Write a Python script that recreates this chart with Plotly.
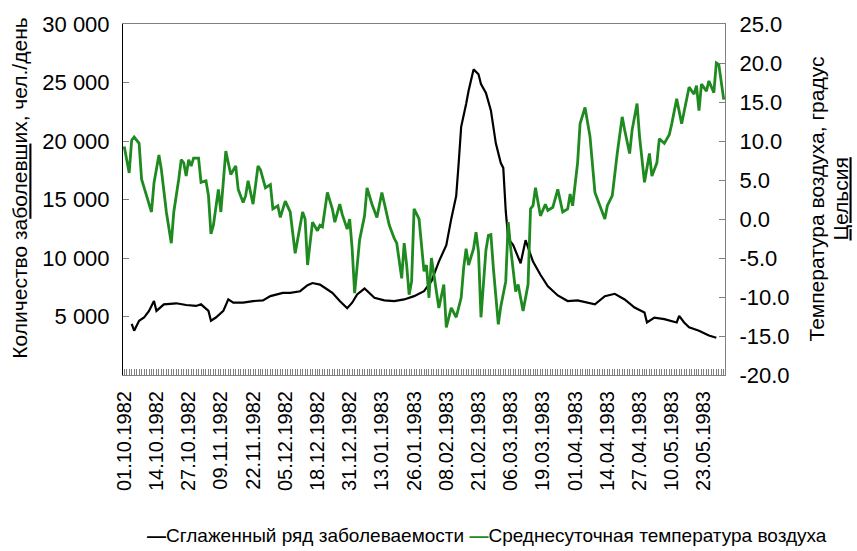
import pandas as pd
import plotly.graph_objects as go

# Smoothed daily morbidity (persons/day), left axis
cases_dates = [
    "1982-10-04", "1982-10-05", "1982-10-07", "1982-10-09", "1982-10-11", "1982-10-13",
    "1982-10-14", "1982-10-17", "1982-10-22", "1982-10-26", "1982-10-30", "1982-11-01",
    "1982-11-04", "1982-11-05", "1982-11-07", "1982-11-10", "1982-11-12", "1982-11-14",
    "1982-11-18", "1982-11-22", "1982-11-26", "1982-11-29", "1982-12-04", "1982-12-07",
    "1982-12-11", "1982-12-14", "1982-12-16", "1982-12-19", "1982-12-22", "1982-12-24",
    "1982-12-27", "1982-12-30", "1983-01-01", "1983-01-03", "1983-01-06", "1983-01-10",
    "1983-01-14", "1983-01-18", "1983-01-22", "1983-01-26", "1983-01-30", "1983-02-02",
    "1983-02-05", "1983-02-08", "1983-02-10", "1983-02-12", "1983-02-13", "1983-02-14",
    "1983-02-16", "1983-02-17", "1983-02-19", "1983-02-21", "1983-02-22", "1983-02-24",
    "1983-02-26", "1983-02-28", "1983-03-02", "1983-03-03", "1983-03-04", "1983-03-05",
    "1983-03-07", "1983-03-10", "1983-03-12", "1983-03-15", "1983-03-18", "1983-03-21",
    "1983-03-25", "1983-03-29", "1983-04-02", "1983-04-06", "1983-04-09", "1983-04-13",
    "1983-04-17", "1983-04-21", "1983-04-25", "1983-04-29", "1983-04-30", "1983-05-03",
    "1983-05-07", "1983-05-12", "1983-05-13", "1983-05-15", "1983-05-17", "1983-05-21",
    "1983-05-25", "1983-05-28",
]
cases = [
    4360, 3790, 4640, 4910, 5480, 6320,
    5480, 6040, 6130, 5980, 5900, 6040,
    5480, 4640, 4910, 5480, 6460, 6180,
    6180, 6320, 6380, 6740, 7020, 7020,
    7160, 7670, 7860, 7730, 7310, 7020,
    6320, 5710, 6180, 6890, 7390, 6600,
    6380, 6320, 6460, 6740, 7160, 8010,
    9690, 11100, 13340, 15310, 18120, 21210,
    23170, 24300, 26120, 25700, 24860, 24100,
    22610, 19800, 18120, 17700, 14000, 11650,
    11100, 9550, 11520, 9690, 8570, 7580,
    6800, 6320, 6380, 6180, 6040, 6740,
    6940, 6460, 5760, 5340, 4490, 4910,
    4780, 4490, 5060, 4490, 4070, 3790,
    3370, 3180,
]

# Mean daily air temperature (°C), right axis
temp_dates = [
    "1982-10-01", "1982-10-03", "1982-10-04", "1982-10-05", "1982-10-07", "1982-10-08",
    "1982-10-10", "1982-10-12", "1982-10-13", "1982-10-15", "1982-10-16", "1982-10-18",
    "1982-10-20", "1982-10-21", "1982-10-23", "1982-10-24", "1982-10-25", "1982-10-26",
    "1982-10-27", "1982-10-28", "1982-10-29", "1982-10-31", "1982-11-01", "1982-11-03",
    "1982-11-04", "1982-11-05", "1982-11-06", "1982-11-08", "1982-11-09", "1982-11-10",
    "1982-11-11", "1982-11-13", "1982-11-15", "1982-11-16", "1982-11-18", "1982-11-19",
    "1982-11-20", "1982-11-22", "1982-11-24", "1982-11-25", "1982-11-27", "1982-11-29",
    "1982-11-30", "1982-12-02", "1982-12-03", "1982-12-05", "1982-12-07", "1982-12-09",
    "1982-12-10", "1982-12-12", "1982-12-13", "1982-12-14", "1982-12-16", "1982-12-18",
    "1982-12-19", "1982-12-20", "1982-12-22", "1982-12-24", "1982-12-25", "1982-12-27",
    "1982-12-28", "1982-12-30", "1982-12-31", "1983-01-01", "1983-01-02", "1983-01-04",
    "1983-01-06", "1983-01-07", "1983-01-09", "1983-01-11", "1983-01-13", "1983-01-15",
    "1983-01-16", "1983-01-18", "1983-01-19", "1983-01-21", "1983-01-22", "1983-01-23",
    "1983-01-24", "1983-01-25", "1983-01-26", "1983-01-28", "1983-01-29", "1983-01-30",
    "1983-01-31", "1983-02-01", "1983-02-02", "1983-02-03", "1983-02-05", "1983-02-07",
    "1983-02-08", "1983-02-10", "1983-02-12", "1983-02-14", "1983-02-15", "1983-02-16",
    "1983-02-17", "1983-02-19", "1983-02-20", "1983-02-21", "1983-02-22", "1983-02-24",
    "1983-02-25", "1983-02-26", "1983-02-27", "1983-03-01", "1983-03-02", "1983-03-04",
    "1983-03-05", "1983-03-06", "1983-03-08", "1983-03-09", "1983-03-11", "1983-03-13",
    "1983-03-14", "1983-03-15", "1983-03-16", "1983-03-18", "1983-03-20", "1983-03-21",
    "1983-03-23", "1983-03-25", "1983-03-27", "1983-03-29", "1983-03-30", "1983-03-31",
    "1983-04-02", "1983-04-03", "1983-04-05", "1983-04-07", "1983-04-09", "1983-04-11",
    "1983-04-13", "1983-04-14", "1983-04-16", "1983-04-18", "1983-04-20", "1983-04-21",
    "1983-04-23", "1983-04-24", "1983-04-26", "1983-04-27", "1983-04-29", "1983-05-01",
    "1983-05-02", "1983-05-04", "1983-05-05", "1983-05-07", "1983-05-09", "1983-05-10",
    "1983-05-12", "1983-05-14", "1983-05-15", "1983-05-17", "1983-05-19", "1983-05-20",
    "1983-05-21", "1983-05-22", "1983-05-24", "1983-05-25", "1983-05-27", "1983-05-28",
    "1983-05-29", "1983-05-30", "1983-05-31",
]
temperature = [
    9.3, 5.9, 10.1, 10.5, 9.7, 5.1,
    3.0, 0.9, 4.6, 8.2, 6.3, 0.9,
    -3.1, 0.9, 5.1, 7.6, 7.2, 5.5,
    7.6, 6.8, 7.8, 7.8, 4.7, 4.9,
    3.0, -1.9, -0.8, 3.8, 0.9, 5.1,
    8.7, 5.7, 6.8, 3.8, 2.1, 3.0,
    4.9, 1.9, 6.8, 6.3, 4.0, 4.4,
    1.3, 1.7, 0.2, 2.3, 0.9, -4.4,
    -2.5, 0.9, 0.0, -5.9, -0.4, -1.5,
    -0.8, -1.0, 3.4, 1.3, -0.4, 1.9,
    0.6, -1.3, 0.0, -3.8, -9.5, -2.7,
    0.4, 4.0, 1.9, 0.2, 3.4, 0.4,
    -0.8, -2.5, -3.1, -7.6, -3.1, -5.9,
    -9.7, -8.0, 1.3, 0.0, -3.4, -6.7,
    -5.9, -10.1, -5.0, -7.1, -11.4, -8.4,
    -13.9, -11.4, -12.6, -10.1, -6.3, -3.8,
    -5.9, -3.8, -1.7, -4.2, -12.6, -4.0,
    -2.1, -2.0, -6.3, -13.5, -11.2, -8.0,
    -0.4, -3.8, -9.3, -8.4, -11.8, -8.4,
    1.3, 1.7, 4.0, 0.4, 1.9, 1.1,
    1.5, 3.8, 0.9, 1.3, 3.2, 1.7,
    7.2, 12.2, 14.3, 10.6, 3.4, 1.7,
    0.0, 1.7, 3.0, 8.4, 13.1, 11.4,
    8.4, 11.4, 14.8, 10.6, 4.7, 8.4,
    5.5, 7.2, 10.3, 9.7, 10.8, 12.2,
    15.4, 12.2, 13.9, 16.9, 16.0, 17.1,
    13.9, 17.3, 16.4, 17.7, 16.2, 20.0,
    19.8, 17.3, 15.3,
]

# Axis tick labels
date_labels = [
    "01.10.1982", "14.10.1982", "27.10.1982", "09.11.1982", "22.11.1982",
    "05.12.1982", "18.12.1982", "31.12.1982", "13.01.1983", "26.01.1983",
    "08.02.1983", "21.02.1983", "06.03.1983", "19.03.1983", "01.04.1983",
    "14.04.1983", "27.04.1983", "10.05.1983", "23.05.1983",
]
cases_ticks = [5000, 10000, 15000, 20000, 25000, 30000]
cases_tick_text = ["5 000", "10 000", "15 000", "20 000", "25 000", "30 000"]
temp_ticks = [-20, -15, -10, -5, 0, 5, 10, 15, 20, 25]
temp_tick_text = ["-20.0", "-15.0", "-10.0", "-5.0", "0.0", "5.0", "10.0", "15.0", "20.0", "25.0"]

FONT = "Liberation Sans, Arial, sans-serif"
BLACK = "#000000"
GREEN = "#1f8a1f"

# plot-area geometry in pixels, used to place the free-standing texts
L, R, T, B = 123, 725, 19, 375
W, H = R - L, B - T

label_dates = pd.to_datetime(date_labels, format="%d.%m.%Y")
series_names = ["Сглаженный ряд заболеваемости", "Среднесуточная температура воздуха"]

fig = go.Figure()
fig.add_trace(go.Scatter(
    x=pd.to_datetime(cases_dates), y=cases, mode="lines",
    name=series_names[0], line=dict(color=BLACK, width=2.2),
))
fig.add_trace(go.Scatter(
    x=pd.to_datetime(temp_dates), y=temperature, mode="lines",
    name=series_names[1], line=dict(color=GREEN, width=2.8), yaxis="y2",
))

# one-line key below the chart: coloured dash followed by the series name
key_text = (
    f'<span style="color:{BLACK}"><b>—</b></span>{series_names[0]} '
    f'<span style="color:{GREEN}"><b>—</b></span>{series_names[1]}'
)


def vertical_text(text, x_px, y_px):
    return dict(
        text=text, textangle=-90, xref="paper", yref="paper",
        x=(x_px - L) / W, y=(B - y_px) / H,
        xanchor="center", yanchor="middle", showarrow=False,
        font=dict(family=FONT, size=21, color=BLACK),
    )


fig.update_layout(
    width=857, height=551,
    margin=dict(l=L, r=857 - R, t=T, b=551 - B),
    paper_bgcolor="white", plot_bgcolor="white",
    font=dict(family=FONT, color=BLACK),
    showlegend=False,
    xaxis=dict(
        type="date",
        range=["1982-09-30 12:00", "1983-05-31 12:00"],
        tickmode="array", tickvals=label_dates, ticktext=date_labels,
        tickangle=-90, tickfont=dict(family=FONT, size=20, color=BLACK),
        ticks="inside", ticklen=6, tickcolor="#808080",
        minor=dict(ticks="inside", ticklen=6, tickcolor="#808080",
                   dtick=86400000, tick0="1982-10-01", showgrid=False),
        ticklabelstandoff=7,
        showline=True, linecolor="#808080", linewidth=1, mirror=True,
        showgrid=False, zeroline=False,
    ),
    yaxis=dict(
        range=[0, 30000], tickmode="array", tickvals=cases_ticks, ticktext=cases_tick_text,
        tickfont=dict(family=FONT, size=22, color=BLACK),
        ticks="inside", ticklen=6, tickcolor="#808080",
        ticklabelstandoff=8,
        showline=True, linecolor=BLACK, linewidth=1,
        showgrid=False, zeroline=False,
    ),
    yaxis2=dict(
        range=[-20, 25], overlaying="y", side="right",
        tickmode="array", tickvals=temp_ticks, ticktext=temp_tick_text,
        tickfont=dict(family=FONT, size=22, color=BLACK),
        ticks="inside", ticklen=6, tickcolor="#808080",
        ticklabelstandoff=9,
        showline=True, linecolor="#808080", linewidth=1,
        showgrid=False, zeroline=False,
    ),
    annotations=[
        vertical_text("Количество за<u>болевш</u>их, чел./день", 20, 186),
        vertical_text("Температура воздуха, градус", 817, 196),
        vertical_text("<u>Цельсия</u>", 840, 197),
        dict(
            text=key_text, xref="paper", yref="paper",
            x=(487 - L) / W, y=(B - 538) / H,
            xanchor="center", yanchor="middle", showarrow=False,
            font=dict(family=FONT, size=19, color=BLACK),
        ),
    ],
)

fig.write_html("out.html")
